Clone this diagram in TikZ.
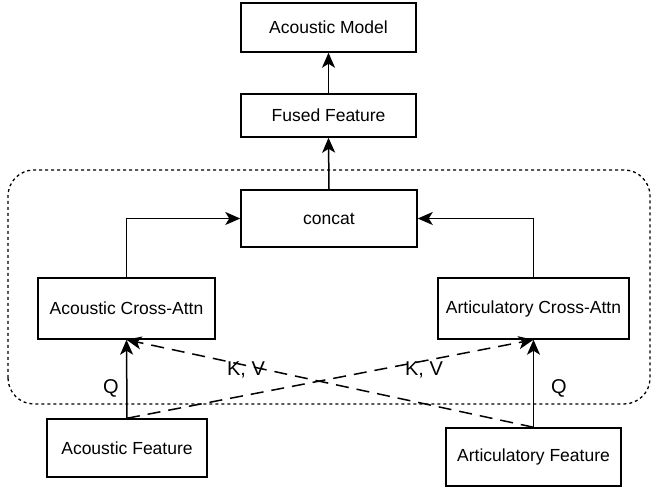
\documentclass[tikz,border=0pt]{standalone}
\usepackage{fontspec}
\setmainfont{Liberation Sans}
\usetikzlibrary{arrows.meta}
\tikzset{
  box/.style={draw, line width=1.5pt, inner sep=0pt, font=\fontsize{17.5}{20}\selectfont},
  conn/.style={draw, line width=1.5pt, -{Stealth[length=15pt,width=13pt,inset=4pt]}},
  kvconn/.style={conn, dash pattern=on 13pt off 8pt},
  lbl/.style={font=\fontsize{20}{24}\selectfont, inner sep=0pt}
}
\begin{document}
\begin{tikzpicture}[x=1pt,y=1pt]
\useasboundingbox (0,0) rectangle (652,489);

% dashed fusion region
\draw[line width=1.3pt, dash pattern=on 3pt off 3pt, rounded corners=26pt] (8,85) rectangle (650,319);

% boxes
\node[box, minimum width=175pt, minimum height=49pt] (am) at (328.5,461.5) {Acoustic Model};
\node[box, minimum width=175pt, minimum height=43pt] (ff) at (328.5,373.5) {Fused Feature};
\node[box, minimum width=176pt, minimum height=57pt] (cc) at (329,270.5) {concat};
\node[box, minimum width=177pt, minimum height=61pt] (aca) at (126.5,180.5) {Acoustic Cross-Attn};
\node[box, minimum width=191pt, minimum height=61pt] (arca) at (533.5,180.5) {Articulatory Cross-Attn};
\node[box, minimum width=160pt, minimum height=58pt] (af) at (127,41) {Acoustic Feature};
\node[box, minimum width=175pt, minimum height=58pt] (arf) at (533.5,32) {Articulatory Feature};

% upper path
\draw[conn] (ff.north) -- (am.south);
\draw[conn] (cc.north) -- (ff.south);
\draw[conn] (aca.north) |- (cc.west);
\draw[conn] (arca.north) |- (cc.east);

% queries
\draw[conn] (af.north) -- (aca.south);
\draw[conn] (arf.north) -- (arca.south);

% keys / values
\draw[kvconn] (af.north) -- (arca.south);
\draw[kvconn] (arf.north) -- (aca.south);

% labels
\node[lbl] (q1) at (111,101) {Q};
\node[lbl] (q2) at (559,101) {Q};
\node[lbl] (kv1) at (246,119) {K, V};
\node[lbl] (kv2) at (424,119) {K, V};
\end{tikzpicture}
\end{document}
